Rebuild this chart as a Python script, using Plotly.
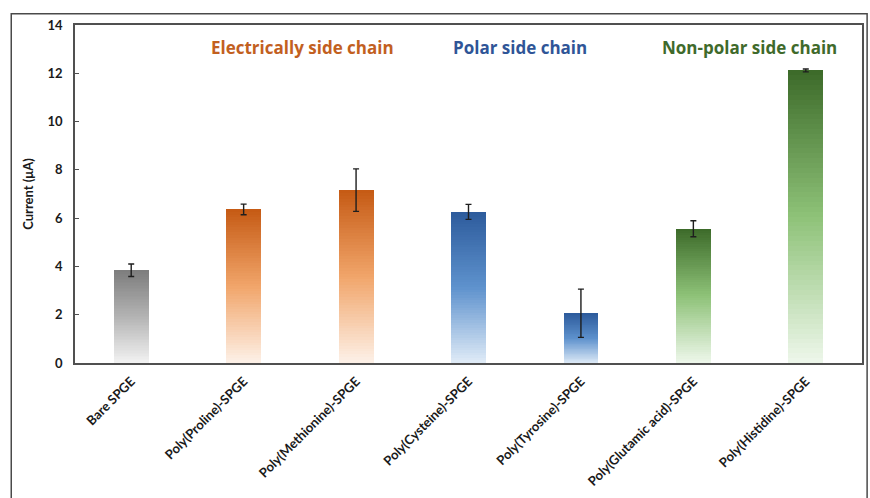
import plotly.graph_objects as go

# Electrode modifications and measured peak currents
categories = [
    "Bare SPGE",
    "Poly(Proline)-SPGE",
    "Poly(Methionine)-SPGE",
    "Poly(Cysteine)-SPGE",
    "Poly(Tyrosine)-SPGE",
    "Poly(Glutamic acid)-SPGE",
    "Poly(Histidine)-SPGE",
]
current_uA = [3.84, 6.36, 7.16, 6.26, 2.06, 5.56, 12.12]
error_uA = [0.26, 0.22, 0.88, 0.31, 1.00, 0.33, 0.06]
groups = ["bare", "electric", "electric", "polar", "polar", "nonpolar", "nonpolar"]

y_ticks = [0, 2, 4, 6, 8, 10, 12, 14]

group_labels = [
    ("Electrically side chain", 1.52, "#c2601f"),
    ("Polar side chain", 3.46, "#2f5597"),
    ("Non-polar side chain", 5.50, "#3f6a2b"),
]

# Vertical gradient stops for each group: (bottom, middle, top)
gradients = {
    "bare": ["#f3f3f3", "#b4b4b4", "#7d7d7d"],
    "electric": ["#fdf1e8", "#f1a56a", "#c55a14"],
    "polar": ["#e0ebf7", "#5e92cd", "#2d5b9c"],
    "nonpolar": ["#eef7eb", "#8ec278", "#3c6a29"],
}


def hex_to_rgb(h):
    h = h.lstrip("#")
    return tuple(int(h[i:i + 2], 16) for i in (0, 2, 4))


def mix(stops, t):
    cols = [hex_to_rgb(s) for s in stops]
    if t <= 0.5:
        a, b, u = cols[0], cols[1], t / 0.5
    else:
        a, b, u = cols[1], cols[2], (t - 0.5) / 0.5
    r, g, bl = (round(a[i] + (b[i] - a[i]) * u) for i in range(3))
    return f"rgb({r},{g},{bl})"


N_SEG = 60
fig = go.Figure()

# Each bar is built from stacked slices so its fill fades from top to bottom
for k in range(N_SEG):
    t = (k + 0.5) / N_SEG
    fig.add_trace(go.Bar(
        x=categories,
        y=[v / N_SEG for v in current_uA],
        marker=dict(color=[mix(gradients[g], t) for g in groups], line=dict(width=0)),
        width=0.31,
        hoverinfo="skip",
        showlegend=False,
    ))

# Standard deviation whiskers at the bar tops
fig.add_trace(go.Scatter(
    x=categories,
    y=current_uA,
    mode="markers",
    marker=dict(size=1, opacity=0),
    error_y=dict(type="data", array=error_uA, visible=True,
                 color="#1e1e1e", thickness=1.4, width=3),
    showlegend=False,
))

for text, xpos, color in group_labels:
    fig.add_annotation(
        x=xpos, y=13.06, xref="x", yref="y",
        text=f"<b>{text}</b>", showarrow=False,
        font=dict(family="Open Sans", size=17, color=color),
    )

# Outer frame around the whole figure
fig.add_shape(
    type="rect", xref="paper", yref="paper",
    x0=-0.081, x1=1.0065, y0=-0.6, y1=1.033,
    line=dict(color="#4a4a4a", width=1.5), fillcolor="rgba(0,0,0,0)",
    layer="above",
)

fig.update_layout(
    width=870,
    height=498,
    margin=dict(l=75, r=6, t=25, b=135),
    barmode="stack",
    bargap=0.69,
    paper_bgcolor="white",
    plot_bgcolor="white",
    font=dict(family="Lato", color="#1a1a1a"),
    xaxis=dict(
        range=[-0.5, 6.5],
        tickangle=-45,
        tickfont=dict(family="Lato", size=13, color="#1a1a1a", weight="bold"),
        showline=True, linecolor="#505050", linewidth=1.5, mirror=True,
        showgrid=False, ticks="", zeroline=False,
        ticklabelstandoff=4,
    ),
    yaxis=dict(
        range=[0, 14],
        tickvals=y_ticks,
        ticktext=[str(v) for v in y_ticks],
        tickfont=dict(family="Lato", size=13, color="#1a1a1a", weight="bold"),
        ticks="inside", ticklen=4, tickcolor="#505050", tickwidth=1,
        ticklabelstandoff=8,
        showline=True, linecolor="#505050", linewidth=1.5, mirror=True,
        showgrid=False, zeroline=False,
        title=dict(text="<b>Current (μA)</b>", standoff=11,
                   font=dict(family="Lato", size=13, color="#1a1a1a")),
    ),
)

fig.write_html("out.html")
